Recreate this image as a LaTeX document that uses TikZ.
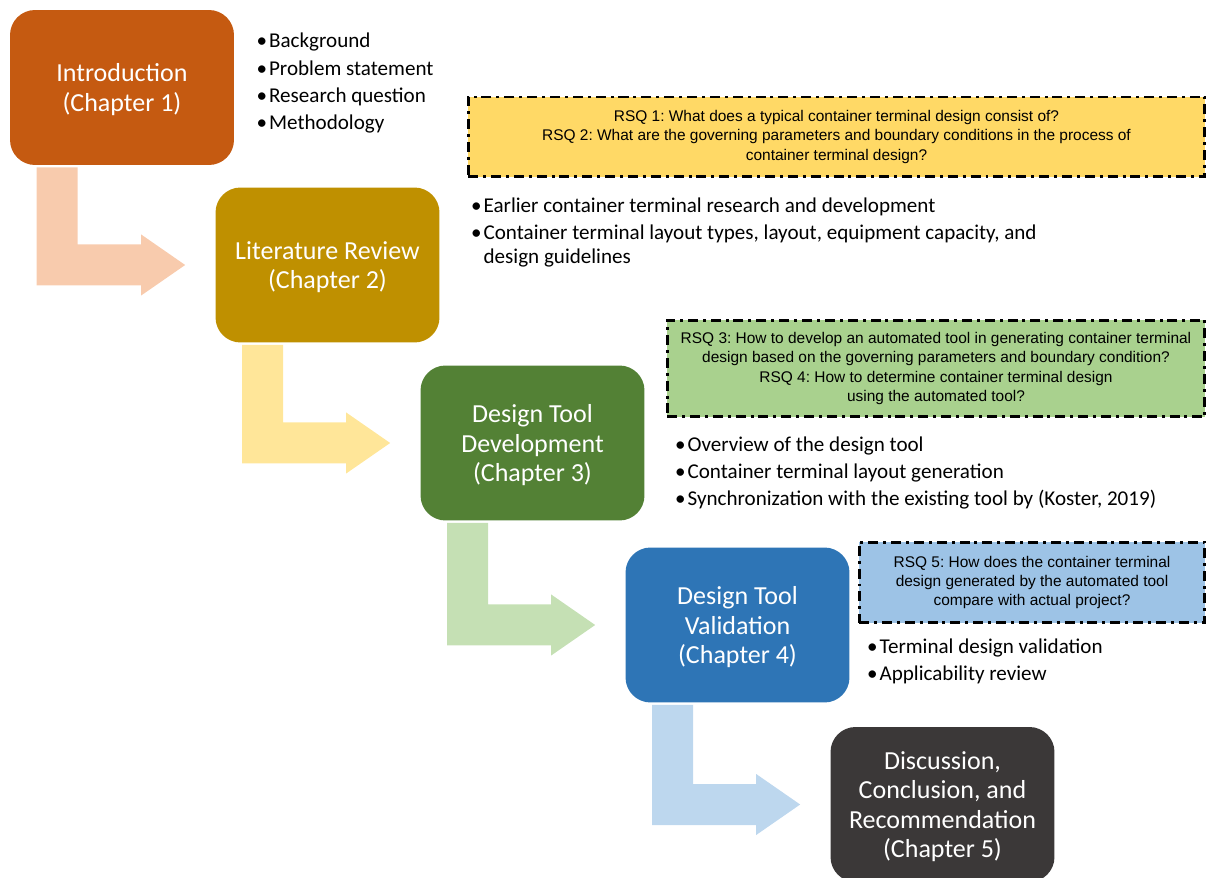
\documentclass[tikz,border=0pt]{standalone}
\usepackage{fontspec}
\setmainfont{Carlito}
\newfontfamily\rsqfont{Liberation Sans}
\usetikzlibrary{calc,
positioning}
\frenchspacing

\definecolor{introcol}{HTML}{C55A11}
\definecolor{litcol}{HTML}{BF9000}
\definecolor{devcol}{HTML}{538135}
\definecolor{valcol}{HTML}{2E75B6}
\definecolor{disccol}{HTML}{3B3838}
\definecolor{introarr}{HTML}{F8CBAD}
\definecolor{litarr}{HTML}{FFE699}
\definecolor{devarr}{HTML}{C5E0B4}
\definecolor{valarr}{HTML}{BDD7EE}
\definecolor{rsqyel}{HTML}{FFD966}
\definecolor{rsqgrn}{HTML}{A9D18E}
\definecolor{rsqblu}{HTML}{9DC3E6}

\newcommand*{\bpt}{\textbullet\hspace{1.1pt}}
\newcommand*{\bentarrow}[3]{%
  \coordinate (bs) at ($(#1.south west) + (27, 2)$);
  \coordinate (bt) at ($(#2.west) + (-30, 0)$);
  \fill [#3] (bs) -- ++(41, 0) -- ($(bs |- bt) + (41, -20.5)$)
  -- ($(bt) + (-44, -20.5)$) -- ($(bt) + (-44, -30.5)$) -- (bt)
  -- ($(bt) + (-44, 30.5)$) -- ($(bt) + (-44, 20.5)$)
  -- ($(bs |- bt) + (0, 20.5)$) -- cycle;
}

\begin{document}
\begin{tikzpicture} [x = 0.02cm,
  y = -0.02cm,
  chapter/.style={rectangle, rounded corners = 0.5cm, text = white,
      minimum width = 4.48cm, minimum height = 3.1cm, align=center,
      text depth = 0pt,
      font = \fontsize{14.8pt}{16.7pt}\selectfont},
  points/.style={anchor = north west, inner sep = 0, align = left,
      font = \fontsize{12pt}{15.6pt}\selectfont},
  rsq/.style={rectangle, draw, line width = 1.7pt,
      dash pattern = on 5.7pt off 2.8pt on 1.7pt off 2.8pt,
      align = center, inner sep = 0,
      font = \rsqfont\fontsize{8.8pt}{11pt}\selectfont}]

  \useasboundingbox (0, 0) rectangle (1208, 878);
  \clip (0, 0) rectangle (1208, 878);

  \node [chapter, fill = introcol] (intro) at (122, 87.5) {Introduction\\(Chapter 1)};

  \node [chapter, fill = litcol] (litrev) at ($(intro) + (205.5, 177.5)$)
  {Literature Review\\(Chapter 2)};

  \node [chapter, fill = devcol] (tooldev) at ($(litrev) + (205, 178)$)
  {Design Tool\\Development\\(Chapter 3)};

  \node [chapter, fill = valcol] (toolval) at ($(tooldev) + (205, 182)$)
  {Design Tool\\Validation\\(Chapter 4)};

  \node [chapter, fill = disccol] (disc) at ($(toolval) + (205, 179.5)$)
  {Discussion,\\Conclusion, and\\Recommendation\\(Chapter 5)};

  % bent arrows between the chapters
  \bentarrow{intro}{litrev}{introarr}
  \bentarrow{litrev}{tooldev}{litarr}
  \bentarrow{tooldev}{toolval}{devarr}
  \bentarrow{toolval}{disc}{valarr}

  % contents of each chapter
  \node [points] (introlist) at ($(intro.north east) + (22, 23)$)
  {\bpt Background\\\bpt Problem statement\\\bpt Research question\\\bpt Methodology};

  \node [points] (litlist) at ($(litrev.north east) + (31, 10)$)
  {\bpt Earlier container terminal research and development\\
    \bpt Container terminal layout types, layout, equipment capacity, and\\[-1.7pt]
    \hphantom{\bpt}design guidelines};

  \node [points] (devlist) at ($(tooldev.north east) + (30, 71)$)
  {\bpt Overview of the design tool\\\bpt Container terminal layout generation\\
    \bpt Synchronization with the existing tool by (Koster, 2019)};

  \node [points] (vallist) at ($(toolval.north east) + (17, 91)$)
  {\bpt Terminal design validation\\\bpt Applicability review};

  % research sub-questions
  \node [rsq, fill = rsqyel,
    minimum width = 14.74cm, minimum height = 1.6cm
  ] (rsqa) at (836.5, 137)
  {RSQ 1: What does a typical container terminal design consist of?\\
    RSQ 2: What are the governing parameters and boundary conditions in the process of\\
    container terminal design?};

  \node [rsq, fill = rsqgrn,
    minimum width = 10.76cm, minimum height = 1.94cm
  ] (rsqb) at (936, 368.5)
  {RSQ 3: How to develop an automated tool in generating container terminal\\
    design based on the governing parameters and boundary condition?\\
    RSQ 4: How to determine container terminal design\\
    using the automated tool?};

  \node [rsq, fill = rsqblu,
    minimum width = 6.92cm, minimum height = 1.62cm
  ] (rsqc) at (1032, 582.5)
  {RSQ 5: How does the container terminal\\
    design generated by the automated tool\\
    compare with actual project?};

\end{tikzpicture}
\end{document}
